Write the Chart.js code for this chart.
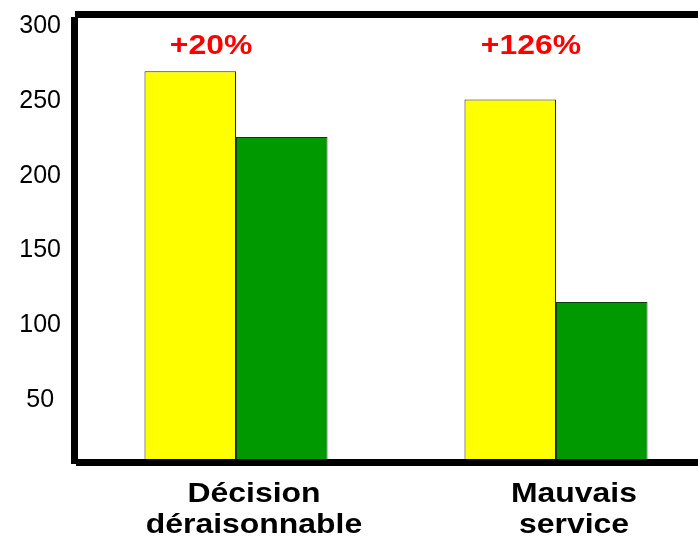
<!DOCTYPE html>
<html lang="fr">
<head>
<meta charset="utf-8">
<title>Décision déraisonnable / Mauvais service</title>
<script src="https://cdn.jsdelivr.net/npm/chart.js@4.4.1/dist/chart.umd.min.js"></script>
<style>
  html, body { margin: 0; padding: 0; background: #ffffff; overflow: hidden; }
  #wrap { width: 720px; height: 544px; }
</style>
</head>
<body>
<div id="wrap"><canvas id="chart" width="720" height="544"></canvas></div>
<script>
// Categories (two-line labels) and the two series
const categories = [['Décision', 'déraisonnable'], ['Mauvais', 'service']];
const yellowValues = [262, 243];
const greenValues = [218, 107.5];
const yTicks = [50, 100, 150, 200, 250, 300];

const FONT = "'Liberation Sans', Arial, Helvetica, sans-serif";
const STRETCH = 1.14; // horizontal stretch of the bold captions

// Thick black frame: top, left and bottom rules
const framePlugin = {
  id: 'frame',
  afterDatasetsDraw(chart) {
    const { ctx, chartArea: a, width } = chart;
    ctx.save();
    ctx.fillStyle = '#000000';
    ctx.fillRect(a.left - 1, a.top - 3.5, width - a.left + 1, 7);
    ctx.fillRect(a.left - 5, a.top + 2.5, 7, a.bottom - a.top - 1);
    ctx.fillRect(a.left, a.bottom - 3.5, width - a.left, 7);
    ctx.restore();
  }
};

// Red increase labels computed from the two series
const increasePlugin = {
  id: 'increase',
  afterDatasetsDraw(chart) {
    const { ctx, chartArea: a } = chart;
    const xs = chart.scales.x;
    ctx.save();
    ctx.fillStyle = '#ff0000';
    ctx.font = 'bold 28px ' + FONT;
    ctx.textAlign = 'center';
    ctx.textBaseline = 'alphabetic';
    yellowValues.forEach((v, i) => {
      const pct = Math.round((v / greenValues[i] - 1) * 100);
      ctx.save();
      ctx.translate(xs.getPixelForValue(i) - 25, a.top + 39.5);
      ctx.scale(STRETCH, 1);
      ctx.fillText('+' + pct + '%', 0, 0);
      ctx.restore();
    });
    ctx.restore();
  }
};

// Draw the category captions slightly widened around their own centre
function widenLabels(scale) {
  if (scale._widened) return;
  scale._widened = true;
  const drawLabels = scale.drawLabels;
  scale.drawLabels = function (area) {
    const ctx = this.ctx;
    const fill = CanvasRenderingContext2D.prototype.fillText;
    ctx.fillText = function (t, x, y, w) {
      this.save();
      this.translate(x, y);
      this.scale(STRETCH, 1);
      fill.call(this, t, 0, 0, w);
      this.restore();
    };
    try { drawLabels.call(this, area); } finally { delete ctx.fillText; }
  };
}

new Chart(document.getElementById('chart'), {
  type: 'bar',
  data: {
    labels: categories,
    datasets: [
      {
        data: yellowValues,
        backgroundColor: '#ffff00',
        borderColor: '#222222',
        borderWidth: 1,
        borderSkipped: 'bottom'
      },
      {
        data: greenValues,
        backgroundColor: '#009900',
        borderColor: '#0a3a0a',
        borderWidth: 1,
        borderSkipped: 'bottom'
      }
    ]
  },
  options: {
    responsive: false,
    animation: false,
    devicePixelRatio: 1,
    layout: { padding: { top: 14.5, right: 4, left: 0, bottom: 0 } },
    plugins: {
      legend: { display: false },
      tooltip: { enabled: false }
    },
    datasets: {
      bar: { barPercentage: 1, categoryPercentage: 0.572 }
    },
    scales: {
      x: {
        grid: { display: false, drawTicks: false },
        border: { display: false },
        ticks: {
          color: '#000000',
          font: { family: FONT, size: 28, weight: 'bold', lineHeight: 1.12 },
          padding: 16,
          labelOffset: 18,
          maxRotation: 0,
          autoSkip: false
        },
        afterFit(scale) {
          scale.height = 81.5;
          scale.paddingLeft = 0;
          scale.paddingRight = 0;
        },
        afterUpdate: widenLabels
      },
      y: {
        min: 0,
        max: 300,
        grid: { display: false, drawTicks: false },
        border: { display: false },
        afterBuildTicks(scale) {
          scale.ticks = [0].concat(yTicks).map(v => ({ value: v }));
        },
        ticks: {
          color: '#000000',
          font: { family: FONT, size: 25 },
          padding: 15,
          crossAlign: 'center',
          labelOffset: 12,
          callback: v => (v === 0 ? '' : String(v))
        },
        afterFit(scale) {
          scale.width = 76;
          scale.paddingTop = 0;
          scale.paddingBottom = 0;
        }
      }
    }
  },
  plugins: [framePlugin, increasePlugin]
});
</script>
</body>
</html>
